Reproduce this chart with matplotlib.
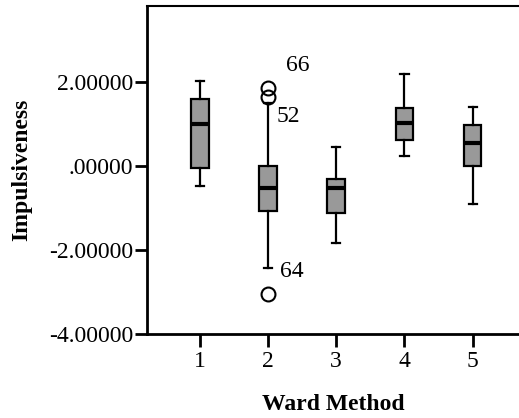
import matplotlib.pyplot as plt
from matplotlib.ticker import FuncFormatter

groups = [1, 2, 3, 4, 5]
whislo = [-0.48, -2.44, -1.83, 0.23, -0.90]
q1 = [-0.05, -1.08, -1.13, 0.62, 0.01]
med = [0.99, -0.52, -0.52, 1.03, 0.55]
q3 = [1.60, 0.01, -0.32, 1.39, 0.97]
whishi = [2.01, 1.49, 0.46, 2.19, 1.41]
fliers = [[], [1.86, 1.65, -3.06], [], [], []]
flier_ids = [[], ["66", "52", "64"], [], [], []]

plt.rcParams["font.family"] = "Liberation Serif"

fig = plt.figure(figsize=(5.19, 4.18), dpi=100)
ax = fig.add_axes([0.283, 0.201, 0.717, 0.785])

stats = []
for i in range(len(groups)):
    stats.append({"whislo": whislo[i], "q1": q1[i], "med": med[i], "q3": q3[i],
                  "whishi": whishi[i], "fliers": fliers[i]})

ax.bxp(stats, positions=groups, widths=0.26, patch_artist=True,
       boxprops=dict(facecolor="#999999", edgecolor="black", linewidth=1.6),
       medianprops=dict(color="black", linewidth=3),
       whiskerprops=dict(color="black", linewidth=1.6),
       capprops=dict(color="black", linewidth=1.6),
       flierprops=dict(marker="o", markerfacecolor="none", markeredgecolor="black",
                       markersize=10, markeredgewidth=1.5),
       capwidths=0.12)

# case labels next to the outliers
offsets = {"66": (0.26, 0.52), "52": (0.13, -0.48), "64": (0.18, 0.54)}
for i, ids in enumerate(flier_ids):
    for v, s in zip(fliers[i], ids):
        dx, dy = offsets[s]
        ax.text(groups[i] + dx, v + dy, s, fontsize=17, va="center", ha="left")

ax.set_xlim(0.224, 5.68)
ax.set_ylim(-4, 3.81)
ax.set_yticks([-4, -2, 0, 2])
ax.yaxis.set_major_formatter(FuncFormatter(
    lambda v, p: ("%.5f" % v).replace("0.", ".", 1) if abs(v) < 1 else "%.5f" % v))
ax.set_xticks(groups)
ax.set_xticklabels([str(g) for g in groups])
ax.tick_params(axis="both", direction="out", length=9, width=2, labelsize=17, pad=1)
ax.tick_params(axis="x", pad=3)

ax.spines["right"].set_visible(False)
ax.spines["left"].set_linewidth(2)
ax.spines["bottom"].set_linewidth(2)
ax.spines["top"].set_linewidth(1.5)

ax.set_xlabel("Ward Method", fontsize=17, fontweight="bold", labelpad=16)
ax.set_ylabel("Impulsiveness", fontsize=17, fontweight="bold", labelpad=12)

fig.savefig("out.png", dpi=100)
